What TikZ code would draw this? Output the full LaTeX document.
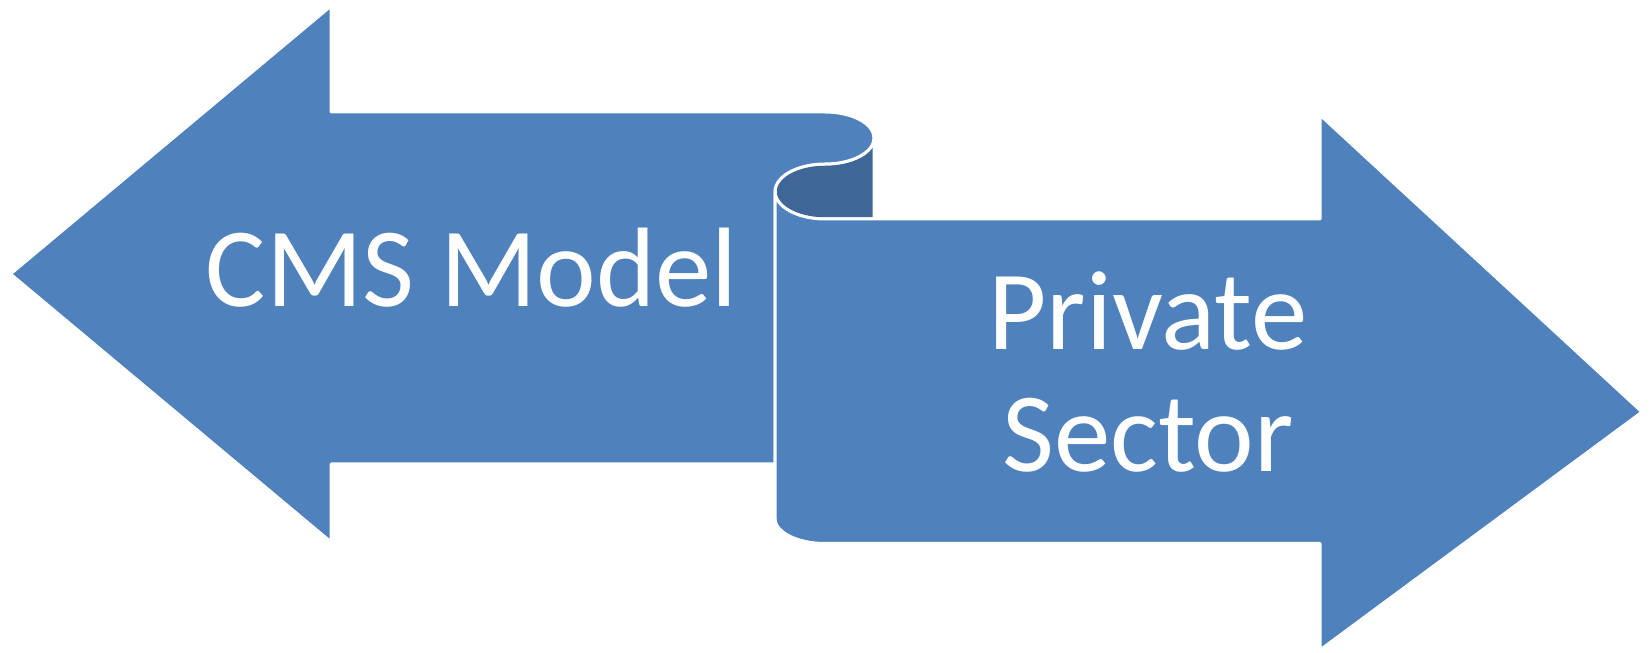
\documentclass[tikz,border=0pt]{standalone}
\usepackage{fontspec}
\setmainfont{Carlito}
\definecolor{scrollblue}{HTML}{4F81BD}
\definecolor{scrolldark}{HTML}{3E6797}
\begin{document}
\begin{tikzpicture}[x=1pt,y=1pt,
  part/.style={fill=scrollblue,draw=white,line width=3pt,line join=round},
  backpart/.style={fill=scrolldark,draw=white,line width=3pt,line join=round},
  lbl/.style={text=white,font=\fontsize{113}{136}\selectfont,anchor=base,inner sep=0pt}]
\useasboundingbox (0,0) rectangle (1649,653);
% dark back of the curl
\path[backpart] (874,515) -- (874,434) -- (825,434)
  arc[start angle=270,end angle=90,x radius=50,y radius=27.5]
  arc[start angle=270,end angle=360,x radius=49,y radius=26] -- cycle;
% left arrow
\path[part] (10.5,379) -- (331,647) -- (331,541) -- (825,541)
  arc[start angle=90,end angle=-90,x radius=49,y radius=26]
  arc[start angle=90,end angle=180,x radius=50,y radius=27.5]
  -- (775,189) -- (331,189) -- (331,111) -- cycle;
% right arrow
\path[part] (825,434) -- (1320,434) -- (1320,538) -- (1642,241) -- (1320,3)
  -- (1320,109.5) -- (825,109.5)
  arc[start angle=270,end angle=180,x radius=50,y radius=25]
  -- (775,461.5)
  arc[start angle=180,end angle=270,x radius=50,y radius=27.5] -- cycle;
\node[lbl] (cms) at (472,346) {CMS Model};
\node[lbl] (priv) at (1148,303) {Private};
\node[lbl] (sect) at (1148,181) {Sector};
\end{tikzpicture}
\end{document}
